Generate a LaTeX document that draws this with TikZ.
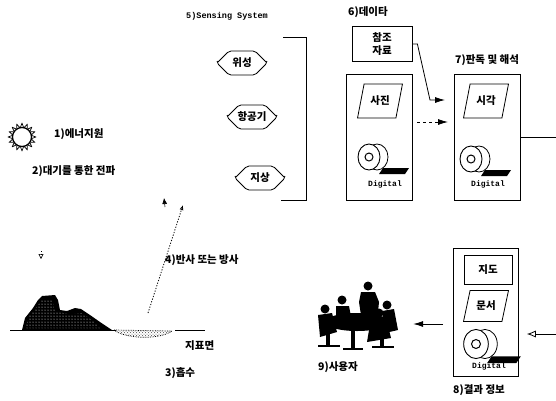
\documentclass[tikz,border=0pt]{standalone}
\usepackage{fontspec}
\setmainfont{Noto Sans CJK KR}
\setmonofont{Liberation Mono}
\usetikzlibrary{shapes.misc,shapes.geometric,arrows.meta,patterns,calc}

\begin{document}
\begin{tikzpicture}[x=1pt,y=-1pt,
  lbl/.style={font=\fontsize{10.5}{11}\selectfont\bfseries, inner sep=0pt, anchor=west},
  mono/.style={font=\ttfamily\bfseries\fontsize{8}{9}\selectfont, inner sep=0pt},
  platform/.style={draw, line width=0.8pt, chamfered rectangle, chamfered rectangle xsep=5pt,
    chamfered rectangle ysep=7pt, rounded corners=2pt, minimum width=50pt, minimum height=22pt,
    inner sep=0pt, font=\fontsize{10.5}{11}\selectfont\bfseries},
  panel/.style={draw, line width=0.8pt, inner sep=0pt, anchor=north west},
  sheet/.style={draw, line width=0.8pt, trapezium, trapezium left angle=68, trapezium right angle=112,
    trapezium stretches=true, minimum width=45pt, minimum height=34pt, inner sep=0pt,
    font=\fontsize{10.5}{11}\selectfont\bfseries},
  textbox/.style={draw, line width=0.8pt, inner sep=0pt, align=center,
    font=\fontsize{10.5}{12.5}\selectfont\bfseries},
  flow/.style={line width=0.8pt, -{Latex[length=10pt,width=6pt]}},
  reel/.pic={
    \fill[black] (14,11) -- (40,11) -- (36,17) -- (10,17) -- cycle;
    \draw[line width=0.8pt, fill=white] (8,0) ellipse (11 and 13);
    \draw[line width=0.9pt, fill=white] (0,0) ellipse (11 and 13);
    \draw[line width=1pt] (0,0) circle (4);
  }]
\useasboundingbox (0,0) rectangle (556,400);

% energy source: the sun
\begin{scope}[shift={(22,137)}]
  \foreach \a in {0,22.5,...,337.5}
    \draw[line width=0.7pt, line join=round] (\a-10:9.5) -- (\a:14) -- (\a+10:9.5) -- cycle;
  \draw[line width=1.2pt, fill=white] (0,0) circle (9.5);
\end{scope}
\node[lbl] (src) at (54,134) {1)에너지원};
\node[lbl] (atm) at (32,171) {2)대기를 통한 전파};

% sensing platforms
\node[font=\ttfamily\bfseries\fontsize{8.5}{9}\selectfont, inner sep=0pt, anchor=west] (sys) at (186,16) {5)Sensing System};
\node[platform] (sat) at (242,63) {위성};
\node[platform] (air) at (252,117) {항공기};
\node[platform] (gnd) at (260,178) {지상};
\coordinate (bt) at (283,37);
\coordinate (bb) at (281,200);
\draw[line width=0.8pt] (bt) -- (306,37) -- (306,200) -- (bb);

% data
\node[lbl] (datal) at (348,12) {6)데이타};
\node[textbox, minimum width=60pt, minimum height=35pt] (ref) at (382,44) {참조\\자료};
\node[panel, minimum width=66pt, minimum height=126pt] (p1) at (346,74) {};
\node[sheet] (photo) at (380,101) {사진};
\pic at (369,157) {reel};
\node[mono] (dig1) at (385,184) {Digital};

% interpretation
\node[lbl] (interp) at (455,60) {7)판독 및 해석};
\node[panel, minimum width=66pt, minimum height=126pt] (p2) at (454,74) {};
\node[sheet] (visual) at (486,101) {시각};
\pic at (471,159) {reel};
\node[mono] (dig2) at (488,184) {Digital};

\coordinate (a1) at (417,122);
\draw[flow, dashed, shorten >=6pt] (a1) -- (p2.west |- a1);
\draw[flow] (ref.east) -- ++(5,0) -- (430,100) -- (445,100);

% results
\node[panel, minimum width=65pt, minimum height=128pt] (p3) at (453,248) {};
\node[textbox, minimum width=48pt, minimum height=29pt] (map) at (488,270) {지도};
\node[sheet, minimum height=31pt] (doc) at (486,306) {문서};
\pic[scale=1.12] at (476,344) {reel};
\node[mono] (dig3) at (489,366) {Digital};
\node[lbl] (result) at (453,390) {8)결과 정보};

\coordinate (outR) at (556,137);
\coordinate (inR) at (556,334);
\draw[line width=0.8pt] (p2.east |- outR) -- (outR);
\draw[line width=0.8pt, -{Latex[open,length=9pt,width=7pt]}, shorten >=8pt] (inR) -- (p3.east |- inR);

% users around a table
\node[minimum width=84pt, minimum height=70pt, inner sep=0pt] (users) at (356,316) {};
\begin{scope}[black]
  \fill (325,309) circle (4.5);
  \fill (342,300) circle (4.5);
  \fill (368,286) circle (4.5);
  \fill (387,305) circle (4.5);
  \fill (379,313) circle (4.5);
  \fill (361,292) -- (375,292) -- (379,302) -- (377,322) -- (362,322) -- (359,302) -- cycle;
  \fill (336,306) -- (349,306) -- (352,322) -- (336,324) -- cycle;
  \fill (318,315) -- (332,313) -- (337,332) -- (320,337) -- cycle;
  \fill (382,311) -- (394,309) -- (398,330) -- (385,333) -- cycle;
  \fill (371,318) -- (386,318) -- (391,338) -- (367,342) -- cycle;
  \fill (357,322) ellipse (32 and 9);
  \fill (326,334) rectangle (330,346);
  \fill (318,345) rectangle (340,347);
  \fill (351,328) rectangle (355,348);
  \fill (343,348) rectangle (363,350);
  \fill (380,338) rectangle (384,347);
  \fill (372,346) rectangle (394,348);
\end{scope}
\node[lbl] (userl) at (318,367) {9)사용자};
\coordinate (a3) at (443,324);
\draw[flow, shorten >=15pt] (a3) -- (users.east |- a3);

% ground with relief and an absorbing hollow
\draw[line width=0.8pt] (10,330) -- (116,330);
\draw[line width=0.8pt] (175,330) -- (205,330);
\fill[black] (22,330) -- (25,318) -- (33,308) -- (38,300) -- (42,296) -- (55,295) -- (58,300)
  -- (60,310) -- (67,311) -- (75,308) -- (81,309) -- (90,315) -- (100,322) -- (112,330) -- cycle;
\fill[pattern=dots, pattern color=white] (26,328) -- (28,318) -- (35,309) -- (42,300) -- (52,299)
  -- (56,312) -- (70,314) -- (82,313) -- (95,322) -- (100,328) -- cycle;
\draw[densely dotted, line width=0.7pt, pattern=crosshatch dots, pattern color=black!70] (114,330) .. controls (125,339) and (160,340) .. (172,331) -- cycle;
\node[lbl] (surf) at (185,346) {지표면};
\node[lbl] (absorb) at (165,373) {3)흡수};

% radiation paths
\coordinate (rb) at (148,313);
\coordinate (rt) at (183,205);
\draw[line width=0.8pt, dash pattern=on 1.2pt off 1.6pt, -{Latex[open,length=5pt,width=4pt]}] (rb) -- (rt);
\coordinate (u1) at (165,207);
\coordinate (u2) at (164,198);
\draw[line width=0.6pt, -{Latex[length=6pt,width=5pt]}] (u1) -- (u2);
\coordinate (d1) at (41,251);
\coordinate (d2) at (41,259);
\draw[line width=0.6pt, dotted, -{Triangle[open,length=5pt,width=5pt]}] (d1) -- (d2);
\node[lbl] (refl) at (165,260) {4)반사 또는 방사};
\end{tikzpicture}
\end{document}
